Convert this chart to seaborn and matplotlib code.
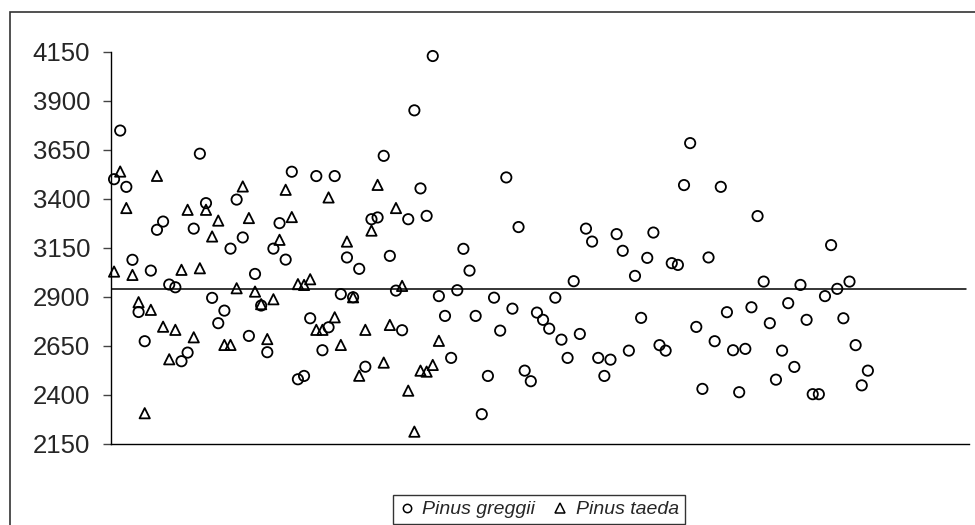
import numpy as np
import pandas as pd
import matplotlib
matplotlib.use("Agg")
import matplotlib.pyplot as plt
from matplotlib.lines import Line2D
from matplotlib.patches import Rectangle
import seaborn as sns

sns.set_style("white")
plt.rcParams["font.family"] = ["Liberation Sans", "DejaVu Sans"]

# values, in sample order
greggii = [3500, 3748, 3461, 3089, 2823, 2674, 3034, 3242, 3284, 2963,
           2949, 2572, 2616, 3248, 3630, 3378, 2895, 2766, 2830, 3146,
           3396, 3203, 2701, 3017, 2856, 2618, 3146, 3276, 3090, 3538,
           2480, 2497, 2791, 3516, 2628, 2745, 3516, 2914, 3101, 2898,
           3043, 2544, 3296, 3305, 3619, 3109, 2932, 2730, 3296, 3851,
           3453, 3313, 4128, 2904, 2803, 2589, 2934, 3145, 3034, 2803,
           2302, 2497, 2896, 2728, 3509, 2840, 3256, 2524, 2470, 2820,
           2783, 2738, 2896, 2682, 2589, 2980, 2711, 3248, 3182, 2589,
           2497, 2580, 3220, 3135, 2626, 3007, 2793, 3099, 3228, 2654,
           2626, 3072, 3063, 3470, 3684, 2747, 2431, 3101, 2674, 3461,
           2822, 2628, 2414, 2635, 2847, 3312, 2978, 2766, 2478, 2626,
           2868, 2543, 2961, 2783, 2404, 2404, 2904, 3164, 2941, 2791,
           2978, 2654, 2449, 2524]
taeda = [3029, 3539, 3353, 3012, 2873, 2307, 2834, 3517, 2748, 2582,
         2732, 3038, 3344, 2694, 3046, 3344, 3208, 3289, 2655, 2655,
         2944, 3463, 3302, 2927, 2863, 2685, 2888, 3191, 3446, 3307,
         2965, 2961, 2990, 2732, 2732, 3407, 2796, 2655, 3182, 2898,
         2498, 2732, 3238, 3471, 2565, 2757, 3353, 2956, 2422, 2213,
         2524, 2519, 2553, 2676]
mean_line = 2940
y_ticks = [2150, 2400, 2650, 2900, 3150, 3400, 3650, 3900, 4150]
n_categories = 140

df = pd.DataFrame({
    "sample": list(range(1, len(greggii) + 1)) + list(range(1, len(taeda) + 1)),
    "value": greggii + taeda,
    "species": ["Pinus greggii"] * len(greggii) + ["Pinus taeda"] * len(taeda),
})

fig = plt.figure(figsize=(9.75, 5.25), dpi=100)
ax = fig.add_axes([111 / 975, 81 / 525, 858 / 975, (444 - 51.7) / 525])

sns.scatterplot(data=df, x="sample", y="value", style="species",
                markers={"Pinus greggii": "o", "Pinus taeda": "^"},
                s=55, linewidth=1.3, legend=False, ax=ax)
for c in ax.collections:
    c.set_facecolor("none")
    c.set_edgecolor("black")
    c.set_clip_on(False)

ax.axhline(mean_line, color="black", lw=1.1, xmax=(966 - 111) / 858)

ax.set_xlim(0.5, n_categories + 0.5)
ax.set_ylim(2150, 4150)
ax.set_yticks(y_ticks)
ax.set_xticks([])
ax.set_xlabel("")
ax.set_ylabel("")
ax.tick_params(axis="y", direction="out", length=6, width=1, color="#444444",
               labelsize=18.5, left=True, pad=9)
for side in ["top", "right"]:
    ax.spines[side].set_visible(False)
for side in ["left", "bottom"]:
    ax.spines[side].set_color("black")
    ax.spines[side].set_linewidth(1)

# chart area frame (runs past the right and bottom edges)
fig.patches.append(Rectangle((10 / 975, -0.1), 1.1, (525 - 12) / 525 + 0.1,
                             transform=fig.transFigure, fill=False,
                             edgecolor="#333333", lw=1.2))

handles = [Line2D([], [], ls="none", marker="o", markersize=6,
                  markerfacecolor="none", markeredgecolor="black", mew=1.1),
           Line2D([], [], ls="none", marker="^", markersize=6.5,
                  markerfacecolor="none", markeredgecolor="black", mew=1.1)]
leg = fig.legend(handles, ["Pinus greggii", "Pinus taeda"], ncol=2,
                 loc="center", bbox_to_anchor=(539 / 975, 15.5 / 525),
                 frameon=True, fancybox=False, handlelength=0.8,
                 handletextpad=0.4, columnspacing=0.9, borderpad=0.3,
                 prop={"style": "italic", "size": 14})
leg.get_frame().set_edgecolor("black")
leg.get_frame().set_linewidth(1)

fig.savefig("out.png", dpi=100)
